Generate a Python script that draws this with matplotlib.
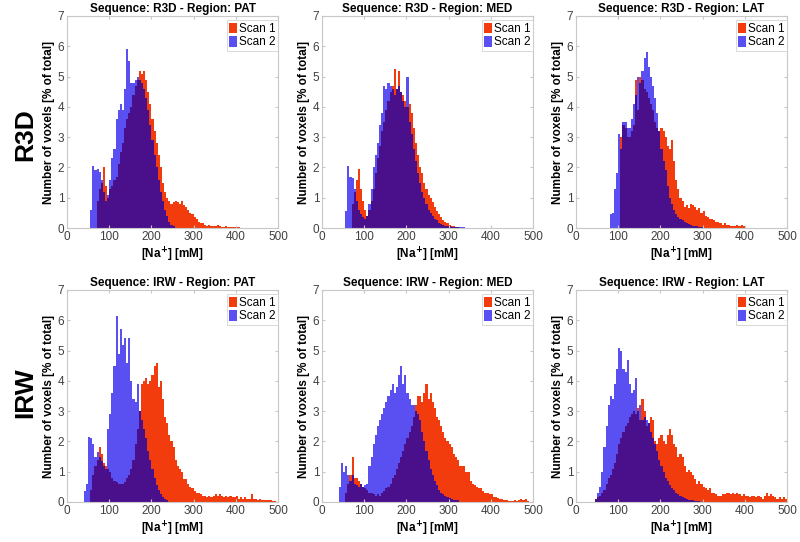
import numpy as np
import matplotlib
matplotlib.use('Agg')
import matplotlib.pyplot as plt
from matplotlib.patches import Patch

plt.rcParams['font.family'] = ['Liberation Sans', 'DejaVu Sans']

# bin width 5 mM, each series = (first bin edge, heights in % of total)
bin_w = 5
sequences = ['R3D', 'IRW']
regions = ['PAT', 'MED', 'LAT']

r3d_pat_scan1 = (70, [0.9, 1.3, 1.5, 2.0, 1.4, 1.0, 1.3, 1.4, 1.6, 1.7, 2.1, 2.5, 2.8, 3.3, 3.6, 3.8,
                      4.0, 4.4, 4.7, 4.9, 5.2, 5.1, 5.2, 4.9, 4.5, 4.1, 3.6, 3.2, 2.8, 2.4, 2.0, 1.5,
                      1.2, 1.0, 0.9, 0.8, 0.85, 0.9, 0.85, 0.8, 0.9, 0.75, 0.7, 0.6, 0.5, 0.45, 0.35,
                      0.3, 0.2, 0.15, 0.15, 0.1, 0.08, 0.1, 0.05, 0.05, 0.06, 0.1, 0.05, 0.04, 0.03,
                      0.05, 0.03, 0.02, 0.03, 0.02, 0.04, 0.02])
r3d_pat_scan2 = (55, [0.6, 2.05, 1.9, 1.95, 1.85, 1.6, 1.2, 0.9, 1.1, 1.6, 2.3, 2.6, 3.6, 3.9, 4.1, 3.9,
                      4.6, 5.9, 5.5, 4.8, 4.8, 4.9, 5.0, 4.9, 4.8, 4.6, 4.3, 3.9, 3.4, 2.9, 2.4, 2.0,
                      1.6, 1.2, 0.9, 0.6, 0.4, 0.2, 0.1, 0.05])

r3d_med_scan1 = (70, [0.8, 1.2, 1.6, 1.95, 1.3, 0.9, 0.6, 0.4, 0.6, 0.9, 1.3, 1.8, 2.3, 2.7, 3.2, 3.5,
                      3.9, 4.2, 4.5, 4.7, 5.25, 4.6, 5.2, 4.5, 4.4, 4.2, 4.0, 4.1, 3.8, 3.3, 2.8, 2.4,
                      2.0, 1.8, 1.5, 1.3, 1.1, 1.0, 0.85, 0.7, 0.55, 0.45, 0.35, 0.25, 0.2, 0.15, 0.1,
                      0.08, 0.05, 0.03, 0.02])
r3d_med_scan2 = (55, [0.55, 2.05, 1.7, 1.65, 1.3, 0.9, 0.6, 0.45, 0.35, 0.3, 0.4, 0.8, 1.3, 2.0, 2.4,
                      2.8, 3.4, 3.8, 4.7, 4.6, 4.8, 4.7, 4.6, 4.4, 4.6, 4.7, 4.5, 4.2, 4.0, 5.0, 3.5,
                      3.1, 2.6, 2.2, 1.8, 1.5, 1.2, 1.0, 0.8, 0.6, 0.5, 0.4, 0.3, 0.25, 0.18, 0.12,
                      0.1, 0.08, 0.05, 0.05, 0.04, 0.03, 0.02, 0.03, 0.02, 0.02, 0.02])

r3d_lat_scan1 = (105, [3.0, 3.4, 3.3, 3.0, 3.0, 3.2, 3.4, 4.9, 3.9, 5.0, 4.9, 4.6, 4.5, 4.3, 4.1, 3.9,
                       3.5, 3.3, 3.2, 3.3, 3.2, 3.0, 2.7, 2.6, 2.9, 2.2, 1.6, 1.3, 1.0, 0.9, 0.7, 0.75,
                       0.65, 0.8, 0.75, 0.7, 0.6, 0.65, 0.5, 0.55, 0.4, 0.35, 0.3, 0.3, 0.25, 0.2, 0.2,
                       0.15, 0.1, 0.15, 0.1, 0.1, 0.08, 0.05, 0.08, 0.1, 0.05, 0.1, 0.08])
r3d_lat_scan2 = (80, [0.45, 0.5, 1.3, 1.8, 3.1, 2.6, 3.5, 3.5, 3.3, 3.3, 3.6, 4.1, 4.4, 5.0, 4.8, 5.2,
                      5.6, 5.8, 5.3, 5.0, 4.7, 4.3, 3.8, 3.2, 2.6, 2.2, 1.9, 1.4, 1.0, 0.8, 0.6, 0.45,
                      0.35, 0.3, 0.25, 0.2, 0.15, 0.12, 0.1, 0.08, 0.06, 0.05, 0.04, 0.03])

irw_pat_scan1 = (55, [0.4, 0.9, 1.2, 1.4, 1.8, 1.6, 1.3, 1.2, 1.1, 1.0, 0.8, 0.7, 0.65, 0.6, 0.6, 0.6,
                      0.65, 0.8, 0.9, 1.1, 1.4, 1.9, 2.4, 3.0, 3.9, 4.0, 4.1, 3.9, 4.0, 4.2, 4.5, 4.6,
                      3.8, 4.0, 3.4, 2.8, 2.6, 2.2, 2.0, 1.8, 1.4, 1.2, 1.1, 1.0, 0.75, 0.75, 0.6, 0.5,
                      0.45, 0.35, 0.3, 0.3, 0.25, 0.2, 0.2, 0.15, 0.2, 0.15, 0.2, 0.25, 0.2, 0.25, 0.2,
                      0.15, 0.2, 0.15, 0.2, 0.15, 0.15, 0.2, 0.1, 0.15, 0.1, 0.15, 0.1, 0.1, 0.25, 0.1,
                      0.1, 0.08, 0.1, 0.08, 0.06, 0.08, 0.05, 0.06, 0.04, 0.03])
irw_pat_scan2 = (40, [0.35, 0.6, 2.15, 2.1, 1.9, 1.5, 1.65, 1.5, 1.35, 1.2, 1.1, 2.4, 2.9, 3.6, 4.5,
                      6.15, 4.9, 5.7, 5.2, 5.4, 4.6, 5.4, 4.0, 3.4, 3.3, 3.9, 3.0, 2.7, 2.4, 2.1, 1.7,
                      1.4, 1.1, 0.8, 0.55, 0.4, 0.25, 0.15, 0.1, 0.05])

irw_med_scan1 = (55, [0.3, 0.6, 0.9, 1.5, 0.8, 0.8, 0.7, 0.6, 0.5, 0.45, 0.4, 0.3, 0.3, 0.25, 0.2,
                      0.25, 0.2, 0.3, 0.35, 0.45, 0.5, 0.6, 0.8, 0.9, 1.1, 1.3, 1.5, 1.7, 1.9, 2.1, 2.3,
                      2.5, 2.8, 3.2, 3.5, 3.5, 3.3, 3.6, 3.9, 3.4, 3.6, 3.3, 3.1, 2.8, 2.7, 2.5, 2.3,
                      2.1, 2.0, 1.9, 1.8, 1.6, 1.5, 1.4, 1.2, 1.2, 1.2, 1.0, 1.0, 0.7, 0.6, 0.55, 0.5,
                      0.45, 0.45, 0.35, 0.3, 0.3, 0.25, 0.25, 0.15, 0.15, 0.12, 0.1, 0.1, 0.08, 0.05,
                      0.04, 0.03, 0.03, 0.05, 0.03, 0.08, 0.1, 0.05, 0.1, 0.03])
irw_med_scan2 = (40, [0.5, 1.3, 1.0, 1.2, 0.9, 0.7, 0.9, 0.6, 0.55, 0.5, 0.6, 0.5, 0.55, 0.6, 1.2, 1.5,
                      1.9, 2.2, 2.5, 2.7, 2.9, 3.1, 3.3, 3.5, 3.7, 3.9, 3.6, 3.8, 4.2, 4.5, 3.9, 4.2,
                      3.6, 3.4, 3.2, 3.2, 3.0, 2.9, 2.7, 2.3, 2.0, 1.7, 1.4, 1.1, 0.9, 0.7, 0.55, 0.4,
                      0.3, 0.25, 0.2, 0.15, 0.12, 0.1, 0.08, 0.06, 0.05])

irw_lat_scan1 = (45, [0.1, 0.15, 0.2, 0.3, 0.4, 0.6, 0.8, 0.9, 1.1, 1.3, 1.6, 1.9, 2.1, 2.3, 2.5, 2.6,
                      2.8, 2.9, 3.0, 2.9, 3.1, 2.7, 3.4, 3.0, 2.5, 2.6, 2.8, 2.7, 2.0, 1.9, 2.1, 2.2,
                      2.0, 1.9, 2.2, 2.4, 2.2, 1.9, 1.8, 1.5, 1.6, 1.5, 1.2, 1.0, 1.05, 1.0, 0.9, 0.75,
                      0.6, 0.7, 0.6, 0.5, 0.45, 0.4, 0.45, 0.3, 0.3, 0.25, 0.2, 0.2, 0.25, 0.25, 0.3,
                      0.3, 0.25, 0.3, 0.25, 0.3, 0.25, 0.2, 0.25, 0.2, 0.2, 0.15, 0.2, 0.2, 0.15, 0.2,
                      0.15, 0.1, 0.2, 0.3, 0.2, 0.25, 0.2, 0.15, 0.1, 0.15, 0.1, 0.15, 0.1])
irw_lat_scan2 = (45, [0.1, 0.3, 0.5, 1.0, 1.8, 2.5, 3.2, 3.5, 3.4, 3.9, 4.4, 5.1, 5.0, 4.4, 4.3, 4.7,
                      3.9, 3.6, 3.7, 4.1, 3.0, 3.2, 2.7, 2.8, 2.7, 2.6, 2.3, 2.1, 1.9, 1.7, 1.4, 1.2,
                      1.0, 0.8, 0.7, 0.55, 0.45, 0.4, 0.3, 0.25, 0.2, 0.15, 0.12, 0.1, 0.08, 0.06,
                      0.05, 0.04, 0.03, 0.02])

panels = {
    ('R3D', 'PAT'): (r3d_pat_scan1, r3d_pat_scan2),
    ('R3D', 'MED'): (r3d_med_scan1, r3d_med_scan2),
    ('R3D', 'LAT'): (r3d_lat_scan1, r3d_lat_scan2),
    ('IRW', 'PAT'): (irw_pat_scan1, irw_pat_scan2),
    ('IRW', 'MED'): (irw_med_scan1, irw_med_scan2),
    ('IRW', 'LAT'): (irw_lat_scan1, irw_lat_scan2),
}

edges = np.arange(0, 500, bin_w)


def to_grid(series):
    start, vals = series
    grid = np.zeros(len(edges))
    i0 = start // bin_w
    grid[i0:i0 + len(vals)] = vals
    return grid


red = '#f23c0e'
blue = '#5a50f2'
purple = '#4a108c'
axis_gray = '#c8c8c8'
text_gray = '#404040'

fig = plt.figure(figsize=(8, 5.42), dpi=100)

lefts = [67 / 800, 322 / 800, 576 / 800]
bottoms = [1 - 228 / 542, 1 - 502 / 542]
w = 211 / 800
h = 212 / 542

for r, seq in enumerate(sequences):
    for c, reg in enumerate(regions):
        ax = fig.add_axes([lefts[c], bottoms[r], w, h])
        s1 = to_grid(panels[(seq, reg)][0])
        s2 = to_grid(panels[(seq, reg)][1])
        ax.bar(edges, s1, width=bin_w, align='edge', color=red, linewidth=0)
        ax.bar(edges, s2, width=bin_w, align='edge', color=blue, linewidth=0)
        ax.bar(edges, np.minimum(s1, s2), width=bin_w, align='edge', color=purple, linewidth=0)
        ax.set_xlim(0, 500)
        ax.set_ylim(0, 7)
        ax.set_xticks(range(0, 501, 100))
        ax.set_yticks(range(0, 8))
        ax.tick_params(direction='in', length=2.5, color=axis_gray, labelcolor=text_gray,
                       labelsize=8.5, pad=2, top=True, right=True)
        for sp in ax.spines.values():
            sp.set_color(axis_gray)
            sp.set_linewidth(0.8)
        ax.set_title('Sequence: %s - Region: %s' % (seq, reg), fontsize=8.5,
                     fontweight='bold', pad=3)
        ax.set_xlabel('[Na$^{\\mathbf{+}}$] [mM]', fontsize=8.5, fontweight='bold', labelpad=2)
        ax.set_ylabel('Number of voxels [% of total]', fontsize=8.5, fontweight='bold',
                      labelpad=2)
        handles = [Patch(facecolor=red, label='Scan 1'), Patch(facecolor=blue, label='Scan 2')]
        leg = ax.legend(handles=handles, loc='upper right', bbox_to_anchor=(1.0, 0.98),
                        fontsize=8.5, fancybox=False, handlelength=0.7, handleheight=1.0,
                        handletextpad=0.15, labelspacing=0.1, borderpad=0.2, borderaxespad=0)
        leg.get_frame().set_edgecolor(axis_gray)
        leg.get_frame().set_linewidth(0.6)

fig.text(25 / 800, 1 - 135 / 542, 'R3D', rotation=90, fontsize=19, fontweight='bold',
         ha='center', va='center')
fig.text(25 / 800, 1 - 393 / 542, 'IRW', rotation=90, fontsize=19, fontweight='bold',
         ha='center', va='center')

fig.savefig('out.png', dpi=100)
